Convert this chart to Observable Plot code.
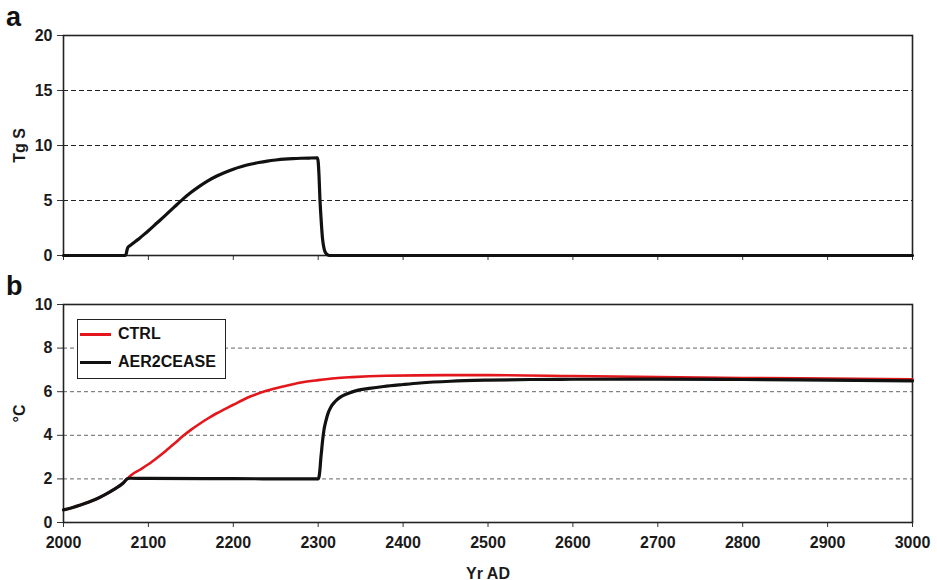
<!DOCTYPE html>
<html>
<head>
<meta charset="utf-8">
<script src="https://cdn.jsdelivr.net/npm/d3@7"></script>
<script src="https://cdn.jsdelivr.net/npm/@observablehq/plot@0.6"></script>
<style>
  body { margin: 0; background: #fff; font-family: "Liberation Sans", Arial, sans-serif; }
  #fig { position: relative; width: 937px; height: 580px; background: #fff; }
  #fig > svg { position: absolute; left: 0; }
  .tag { position: absolute; font-weight: bold; font-size: 27px; line-height: 1; color: #111; }
  .legend { position: absolute; left: 77px; top: 319px; width: 147px; height: 58px;
            border: 1.5px solid #222; background: #fff; }
  .legend .row { position: absolute; left: 2px; height: 20px; display: flex; align-items: center;
                 font-weight: bold; font-size: 16px; color: #111; }
  .legend .sw { width: 31px; height: 3px; margin-right: 7px; }
</style>
</head>
<body>
<div id="fig"></div>
<script>
// Panel a: sulphur injection (Tg S per year)
const sulfurYear = [2000, 2073, 2074, 2075, 2076, 2078, 2080, 2085, 2090, 2095, 2100, 2110, 2120, 2130, 2140,
  2150, 2160, 2170, 2180, 2190, 2200, 2210, 2220, 2230, 2240, 2250, 2260, 2270, 2280, 2290, 2299,
  2300, 2301, 2302, 2303, 2304, 2305, 2306, 2307, 2308, 2310, 2313, 3000];
const sulfurTg = [0, 0, 0.2, 0.55, 0.75, 0.88, 1.0, 1.3, 1.6, 1.92, 2.25, 2.95, 3.65, 4.37, 5.08,
  5.72, 6.28, 6.78, 7.2, 7.55, 7.85, 8.09, 8.29, 8.45, 8.58, 8.68, 8.76, 8.81, 8.84, 8.86, 8.87,
  8.5, 7.2, 5.2, 3.8, 2.6, 1.6, 1.0, 0.6, 0.35, 0.12, 0, 0];

// Panel b: global mean temperature change (°C)
const ctrlYear = [2000, 2010, 2020, 2030, 2040, 2050, 2060, 2070, 2075, 2080, 2090, 2100, 2110, 2120, 2130,
  2140, 2150, 2160, 2170, 2180, 2190, 2200, 2220, 2240, 2260, 2280, 2300, 2320, 2340, 2380, 2450,
  2500, 2600, 2700, 2800, 2900, 3000];
const ctrlTemp = [0.58, 0.68, 0.8, 0.94, 1.1, 1.3, 1.53, 1.8, 2.0, 2.18, 2.42, 2.67, 2.96, 3.27, 3.6,
  3.94, 4.25, 4.52, 4.77, 5.0, 5.2, 5.4, 5.78, 6.05, 6.25, 6.42, 6.53, 6.62, 6.67, 6.73, 6.76,
  6.76, 6.72, 6.67, 6.63, 6.6, 6.57];

const ceaseYear = [2000, 2010, 2020, 2030, 2040, 2050, 2060, 2070, 2075, 2078, 2100, 2200, 2299, 2300,
  2301, 2302, 2303, 2304, 2305, 2307, 2309, 2312, 2315, 2320, 2326, 2335, 2346, 2360, 2377, 2400,
  2420, 2456, 2500, 2550, 2600, 2700, 2800, 2900, 3000];
const ceaseTemp = [0.58, 0.68, 0.8, 0.94, 1.1, 1.3, 1.53, 1.8, 2.0, 2.03, 2.02, 2.01, 2.0, 2.0,
  2.1, 2.4, 2.9, 3.3, 3.7, 4.3, 4.65, 5.05, 5.3, 5.55, 5.75, 5.92, 6.06, 6.15, 6.24, 6.33,
  6.4, 6.48, 6.53, 6.56, 6.57, 6.58, 6.56, 6.53, 6.5];

const yearTicks = [2000, 2100, 2200, 2300, 2400, 2500, 2600, 2700, 2800, 2900, 3000];
const sulfurTicks = [0, 5, 10, 15, 20];
const sulfurGrid = [5, 10, 15];
const tempTicks = [0, 2, 4, 6, 8, 10];
const tempGrid = [2, 4, 6, 8];

const seriesNames = ["CTRL", "AER2CEASE"];
const seriesColors = ["#e3161c", "#111111"];

const sulfur = sulfurYear.map((year, i) => ({year, value: sulfurTg[i]}));
const ctrl = ctrlYear.map((year, i) => ({year, value: ctrlTemp[i]}));
const cease = ceaseYear.map((year, i) => ({year, value: ceaseTemp[i]}));

const font = {
  fontFamily: "'Liberation Sans', Arial, sans-serif",
  fontSize: "16px",
  fontWeight: "bold",
  color: "#1a1a1a",
  background: "white",
  overflow: "visible"
};

const fig = document.getElementById("fig");

const panelA = Plot.plot({
  width: 937,
  height: 280,
  marginLeft: 63,
  marginRight: 25,
  marginTop: 35,
  marginBottom: 25,
  style: font,
  x: {domain: [2000, 3000]},
  y: {domain: [0, 20]},
  marks: [
    Plot.gridY(sulfurGrid, {stroke: "#222", strokeOpacity: 1, strokeDasharray: "5,3", strokeWidth: 1}),
    Plot.axisX({ticks: yearTicks, tickSize: 5, tickFormat: () => "", label: null, stroke: "#333"}),
    Plot.axisY({ticks: sulfurTicks, tickSize: 6, tickPadding: 5, label: "Tg S", labelAnchor: "center",
      labelArrow: "none", labelOffset: 50, stroke: "#333"}),
    Plot.frame({stroke: "#222", strokeWidth: 1.6}),
    Plot.line(sulfur, {x: "year", y: "value", stroke: "#111", strokeWidth: 3.2, curve: "monotone-x"})
  ]
});
panelA.style.top = "0px";
fig.appendChild(panelA);

const panelB = Plot.plot({
  width: 937,
  height: 300,
  marginLeft: 63,
  marginRight: 25,
  marginTop: 24,
  marginBottom: 58,
  style: font,
  x: {domain: [2000, 3000]},
  y: {domain: [0, 10]},
  marks: [
    Plot.gridY(tempGrid, {stroke: "#666", strokeOpacity: 1, strokeDasharray: "4,3", strokeWidth: 1}),
    Plot.axisX({ticks: yearTicks, tickSize: 5, tickPadding: 9, tickFormat: d => String(d),
      label: "Yr AD", labelAnchor: "center", labelArrow: "none", labelOffset: 56, stroke: "#333"}),
    Plot.axisY({ticks: tempTicks, tickSize: 6, tickPadding: 5, label: "°C", labelAnchor: "center",
      labelArrow: "none", labelOffset: 50, stroke: "#333"}),
    Plot.frame({stroke: "#222", strokeWidth: 1.6}),
    Plot.line(ctrl, {x: "year", y: "value", stroke: seriesColors[0], strokeWidth: 2.6, curve: "monotone-x"}),
    Plot.line(cease, {x: "year", y: "value", stroke: seriesColors[1], strokeWidth: 3.2, curve: "monotone-x"})
  ]
});
panelB.style.top = "280px";
fig.appendChild(panelB);

// Panel letters
[["a", 6, 4], ["b", 6, 273]].forEach(([t, left, top]) => {
  const d = document.createElement("div");
  d.className = "tag";
  d.textContent = t;
  d.style.left = left + "px";
  d.style.top = top + "px";
  fig.appendChild(d);
});

// Legend for panel b
const legend = document.createElement("div");
legend.className = "legend";
seriesNames.forEach((name, i) => {
  const row = document.createElement("div");
  row.className = "row";
  row.style.top = (4 + i * 28) + "px";
  const sw = document.createElement("span");
  sw.className = "sw";
  sw.style.background = seriesColors[i];
  const label = document.createElement("span");
  label.textContent = name;
  row.appendChild(sw);
  row.appendChild(label);
  legend.appendChild(row);
});
fig.appendChild(legend);
</script>
</body>
</html>
